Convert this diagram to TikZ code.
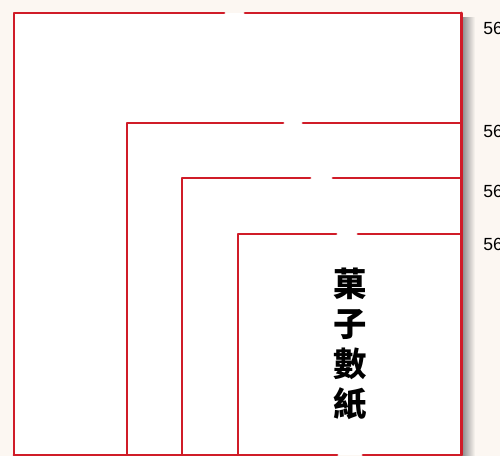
\documentclass[tikz,border=0pt]{standalone}
\usepackage{fontspec}
\setmainfont{Liberation Sans}
\newfontfamily\cjk{Noto Sans CJK TC}
\usepackage{xcolor}
\usetikzlibrary{positioning}

\definecolor{foldred}{RGB}{208,28,40}
\definecolor{papercream}{RGB}{252,247,242}

\tikzset{
    edge/.style={draw=foldred, line width=1.7pt, line cap=round, line join=round},
    sizelabel/.style={anchor=west, inner sep=0pt, font=\fontsize{10}{12}\selectfont},
    title/.style={align=center, inner sep=0pt,
        font=\cjk\bfseries\fontsize{19}{22.8}\selectfont}
}

\begin{document}
\begin{tikzpicture}[x=0.02cm, y=-0.02cm]

    % Page
    \useasboundingbox (0,0) rectangle (500,456);
    \fill[papercream] (0,0) rectangle (500,456);

    % Shadow on the right side
    \shade[left color=black!45, right color=papercream] (462,18) rectangle (475,456);

    % Paper
    \fill[white] (14,13) rectangle (461,455);

    % Nested sheets: left / top / gap start / gap end
    \foreach \l/\t/\ga/\gb in {
        14/13/224/245,
        127/123/283/303,
        182/178/310/333,
        238/234/336/358
    }{
        \draw[edge] (\ga,\t) -- (\l,\t) -- (\l,455);
        \draw[edge] (\gb,\t) -- (461,\t);
    }

    % Right edge and bottom
    \draw[edge] (461,13) -- (461,455);
    \draw[edge] (14,455) -- (337,455);
    \draw[edge] (363,455) -- (461,455);

    % Title
    \node[title] (name) at (350,344) {菓\\子\\數\\紙};

    % Sizes
    \node[sizelabel] (s1) at (483,28) {56};
    \node[sizelabel] (s2) at (483,131) {56};
    \node[sizelabel] (s3) at (483,191) {56};
    \node[sizelabel] (s4) at (483,244) {56};

\end{tikzpicture}
\end{document}
